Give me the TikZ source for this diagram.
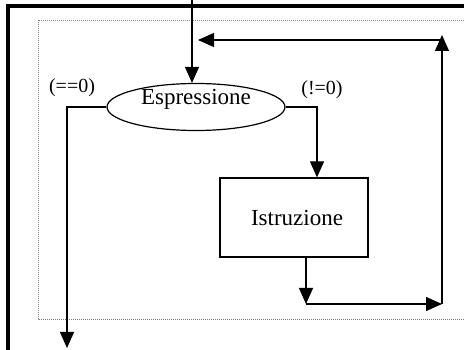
\documentclass[tikz,border=0pt]{standalone}
\usepackage{fontspec}
\setmainfont{Liberation Serif}
\usetikzlibrary{shapes.geometric,arrows.meta}
\tikzset{
  flow/.style={line width=1.2pt,-{Triangle[length=16pt,width=14pt]}},
  cond/.style={font=\fontsize{20}{24}\selectfont,inner sep=0pt}
}
\begin{document}
\begin{tikzpicture}[x=1pt,y=-1pt,line width=1.2pt]
    \useasboundingbox (0,0) rectangle (464,350);
    \clip (0,0) rectangle (464,350);
    \draw[line width=3.2pt] (8,360) -- (8,6) -- (470,6);
    \draw[gray,line width=0.8pt,dash pattern=on 1pt off 1pt] (470,20) -- (38,20) -- (38,319) -- (470,319);

    \node[ellipse,draw,minimum width=178pt,minimum height=47pt,inner sep=0pt,
      text height=12pt,text depth=16pt,font=\fontsize{23}{27}\selectfont] (esp) at (196,107) {Espressione};
    \node[rectangle,draw,minimum width=148pt,minimum height=79pt,
      font=\fontsize{23}{27}\selectfont] (istr) at (294,217.5) {\hspace{6pt}Istruzione};
    \node[cond] (zero) at (72,88) {(==0)};
    \node[cond] (nonzero) at (322,90) {(!=0)};

    \coordinate (start) at (192,0);
    \coordinate (no) at (67,107);
    \coordinate (out) at (67,348);
    \coordinate (yes) at (317,107);
    \coordinate (down) at (306,304);
    \coordinate (corner) at (442,304);
    \coordinate (up) at (442,35);
    \coordinate (back) at (442,40);
    \coordinate (join) at (198,40);

    \draw[flow] (start) -- (start |- esp.north);
    \draw[flow] (esp.west) -- (no) -- (out);
    \draw[flow] (esp.east) -- (yes) -- (yes |- istr.north);
    \draw[flow] (istr.south -| down) -- (down);
    \draw[flow] (down) -- (corner);
    \draw[flow] (corner) -- (up);
    \draw[flow] (back) -- (join);
\end{tikzpicture}
\end{document}
